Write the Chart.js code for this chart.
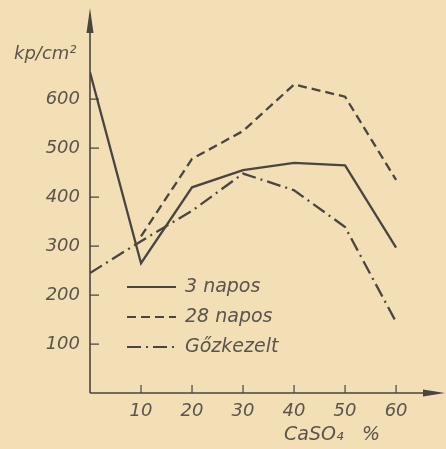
<!DOCTYPE html>
<html lang="hu">
  <head>
    <meta charset="UTF-8" />
    <title>CaSO4 szilárdság</title>
    <script src="https://cdn.jsdelivr.net/npm/chart.js@4/dist/chart.umd.min.js"></script>
    <style>
      html, body { margin: 0; padding: 0; background: #f2dfb6; }
      canvas { display: block; }
    </style>
  </head>
  <body>
    <canvas id="chart" width="446" height="449"></canvas>
    <script>
      // CaSO4 %
      const caso4 = [0, 10, 20, 30, 40, 50, 60];
      // kp/cm2
      const napos3 = [655, 265, 420, 455, 470, 465, 297];
      const napos28 = [null, 320, 478, 535, 630, 605, 435];
      const gozkezelt = [245, 310, 372, 448, 414, 339, 145];

      const xTicks = [10, 20, 30, 40, 50, 60];
      const yTicks = [100, 200, 300, 400, 500, 600];

      const ink = "#4a4540";
      const textInk = "#5a544c";
      const font = { family: "DejaVu Sans", size: 18, style: "italic" };

      const pts = (arr) => caso4.map((x, i) => ({ x: x, y: arr[i] }));

      const paperAxes = {
        id: "paperAxes",
        afterDraw(chart) {
          const ctx = chart.ctx;
          const xs = chart.scales.x;
          const ys = chart.scales.y;
          const x0 = xs.getPixelForValue(0);
          const y0 = ys.getPixelForValue(0);
          ctx.save();
          ctx.strokeStyle = ink;
          ctx.fillStyle = ink;
          ctx.lineWidth = 1.6;
          // axes
          ctx.beginPath();
          ctx.moveTo(x0, y0);
          ctx.lineTo(x0, 14);
          ctx.moveTo(x0, y0);
          ctx.lineTo(438, y0);
          ctx.stroke();
          // arrow heads
          ctx.beginPath();
          ctx.moveTo(x0, 8);
          ctx.lineTo(x0 - 3.5, 33);
          ctx.lineTo(x0 + 3.5, 33);
          ctx.closePath();
          ctx.fill();
          ctx.beginPath();
          ctx.moveTo(445, y0);
          ctx.lineTo(423, y0 - 3.5);
          ctx.lineTo(423, y0 + 3.5);
          ctx.closePath();
          ctx.fill();
          // inner tick marks
          ctx.lineWidth = 1.2;
          ctx.beginPath();
          for (const v of yTicks) {
            const y = ys.getPixelForValue(v);
            ctx.moveTo(x0, y);
            ctx.lineTo(x0 + 9, y);
          }
          for (const v of xTicks) {
            const x = xs.getPixelForValue(v);
            ctx.moveTo(x, y0);
            ctx.lineTo(x, y0 - 8);
          }
          ctx.stroke();

          // axis titles
          ctx.fillStyle = textInk;
          ctx.font = "italic 18px 'DejaVu Sans'";
          ctx.textBaseline = "alphabetic";
          ctx.textAlign = "left";
          ctx.fillText("kp/cm²", 14, 59);
          ctx.font = "italic 19px 'DejaVu Sans'";
          ctx.fillText("CaSO₄", 284, 440);
          ctx.fillText("%", 362, 440);

          // legend inside the plot
          ctx.font = "italic 19px 'DejaVu Sans'";
          chart.data.datasets.forEach((ds, i) => {
            const y = 287 + i * 30;
            ctx.strokeStyle = ink;
            ctx.lineWidth = 2.2;
            ctx.setLineDash(ds.borderDash || []);
            ctx.beginPath();
            ctx.moveTo(127, y);
            ctx.lineTo(176, y);
            ctx.stroke();
            ctx.setLineDash([]);
            ctx.fillStyle = textInk;
            ctx.textBaseline = "middle";
            ctx.fillText(ds.label, 185, y);
          });
          ctx.restore();
        },
      };

      new Chart(document.getElementById("chart"), {
        type: "line",
        data: {
          datasets: [
            {
              label: "3 napos",
              data: pts(napos3),
              borderColor: ink,
              borderWidth: 2.3,
              pointRadius: 0,
            },
            {
              label: "28 napos",
              data: pts(napos28),
              borderColor: ink,
              borderWidth: 2.3,
              borderDash: [9, 5],
              pointRadius: 0,
            },
            {
              label: "Gőzkezelt",
              data: pts(gozkezelt),
              borderColor: ink,
              borderWidth: 2.3,
              borderDash: [14, 5, 2, 5],
              pointRadius: 0,
            },
          ],
        },
        options: {
          responsive: false,
          animation: false,
          layout: { padding: { top: 8, right: 4, left: 0, bottom: 0 } },
          plugins: {
            legend: { display: false },
            tooltip: { enabled: false },
          },
          scales: {
            x: {
              type: "linear",
              min: 0,
              max: 69,
              afterBuildTicks: (s) => { s.ticks = xTicks.map((v) => ({ value: v })); },
              afterFit: (s) => { s.height = 56; },
              grid: { display: false, drawTicks: false },
              border: { display: false },
              ticks: { color: textInk, font: font, padding: 8, maxRotation: 0 },
            },
            y: {
              min: 0,
              max: 760,
              afterBuildTicks: (s) => { s.ticks = yTicks.map((v) => ({ value: v })); },
              afterFit: (s) => { s.width = 90; },
              grid: { display: false, drawTicks: false },
              border: { display: false },
              ticks: { color: textInk, font: font, padding: 10 },
            },
          },
        },
        plugins: [paperAxes],
      });
    </script>
  </body>
</html>
